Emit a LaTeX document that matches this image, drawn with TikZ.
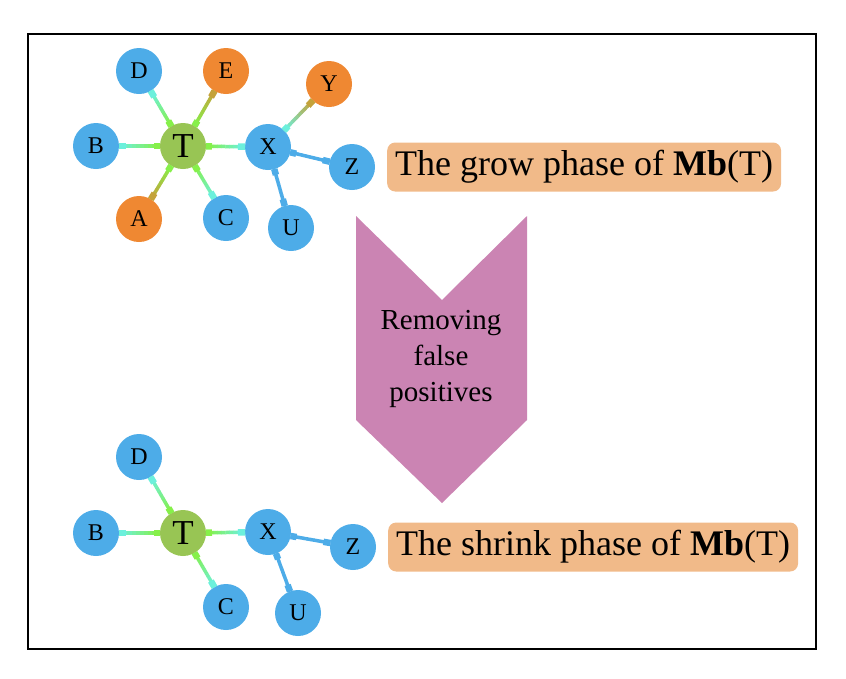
\documentclass[tikz,border=0pt]{standalone}
\usepackage{fontspec}
\setmainfont{Liberation Serif}
\usetikzlibrary{calc}
\definecolor{nodeblue}{HTML}{4DACE8}
\definecolor{nodeorange}{HTML}{EF8832}
\definecolor{tgreen}{HTML}{98C554}
\definecolor{lime}{HTML}{86F04A}
\definecolor{aqua}{HTML}{6CF0DC}
\definecolor{gold}{HTML}{C4A23A}
\definecolor{chevron}{HTML}{CB84B3}
\definecolor{lblorange}{HTML}{F1BA89}

\tikzset{
  leaf/.style={circle, fill=nodeblue, minimum size=46pt, inner sep=0pt,
    font=\fontsize{24}{24}\selectfont},
  oleaf/.style={leaf, fill=nodeorange},
  target/.style={leaf, fill=tgreen, font=\fontsize{35}{35}\selectfont},
  edge/.style={line width=3.5pt, line cap=butt},
  edgeend/.style={line width=6.5pt, line cap=butt},
  phase/.style={fill=lblorange, rounded corners=8pt, inner xsep=8pt,
    minimum height=49pt, anchor=west, font=\fontsize{36}{36}\selectfont}
}

% edge that fades from one colour to another between two nodes
\newcommand{\fadeedge}[4]{%
  \coordinate (p) at ($(#1)!23pt!(#2)$);
  \coordinate (q) at ($(#2)!23pt!(#1)$);
  \foreach \k in {0,...,9}{
    \pgfmathtruncatemacro{\mix}{\k*11}
    \draw[edge, #4!\mix!#3] ($(p)!\k/10-0.005!(q)$) -- ($(p)!\k/10+0.105!(q)$);
  }
  \draw[edgeend, #3] (p) -- ($(p)!6pt!(q)$);
  \draw[edgeend, #4] (q) -- ($(q)!7pt!(p)$);
}

\begin{document}
\begin{tikzpicture}[x=1pt, y=-1pt]
  \useasboundingbox (0,0) rectangle (846,678);

  % Frame
  \draw[line width=1.5pt] (28,34) rectangle (816,649);

  % Grow phase graph
  \node[target] (gT) at (183,146) {T};
  \node[leaf]  (gD) at (139,71) {D};
  \node[oleaf] (gE) at (226,71) {E};
  \node[leaf]  (gB) at (96,146) {B};
  \node[oleaf] (gA) at (139,219) {A};
  \node[leaf]  (gC) at (226,218) {C};
  \node[leaf]  (gX) at (268,147) {X};
  \node[oleaf] (gY) at (329,84) {Y};
  \node[leaf]  (gZ) at (352,167) {Z};
  \node[leaf]  (gU) at (291,228) {U};

  \fadeedge{gT}{gD}{lime}{aqua}
  \fadeedge{gT}{gE}{lime}{gold}
  \fadeedge{gT}{gB}{lime}{aqua}
  \fadeedge{gT}{gA}{lime}{gold}
  \fadeedge{gT}{gC}{lime}{aqua}
  \fadeedge{gT}{gX}{lime}{aqua}
  \fadeedge{gX}{gY}{aqua}{gold}
  \fadeedge{gX}{gZ}{nodeblue}{nodeblue}
  \fadeedge{gX}{gU}{nodeblue}{nodeblue}

  \node[phase] (grow) at (387,167) {The grow phase of \textbf{Mb}(T)};

  % Chevron between the two phases
  \fill[chevron] (356,216) -- (442,300) -- (527,216) -- (527,420)
    -- (442,503) -- (356,420) -- cycle;
  \node[align=center, font=\fontsize{29}{36}\selectfont] (rm) at (441,359)
    {Removing\\false\\positives};

  % Shrink phase graph
  \node[target] (sT) at (183,533) {T};
  \node[leaf] (sD) at (139,457) {D};
  \node[leaf] (sB) at (96,533) {B};
  \node[leaf] (sC) at (226,607) {C};
  \node[leaf] (sX) at (268,532) {X};
  \node[leaf] (sZ) at (353,547) {Z};
  \node[leaf] (sU) at (298,613) {U};

  \fadeedge{sT}{sD}{lime}{aqua}
  \fadeedge{sT}{sB}{lime}{aqua}
  \fadeedge{sT}{sC}{lime}{aqua}
  \fadeedge{sT}{sX}{lime}{aqua}
  \fadeedge{sX}{sZ}{nodeblue}{nodeblue}
  \fadeedge{sX}{sU}{nodeblue}{nodeblue}

  \node[phase] (shrink) at (388,547) {The shrink phase of \textbf{Mb}(T)};
\end{tikzpicture}
\end{document}
